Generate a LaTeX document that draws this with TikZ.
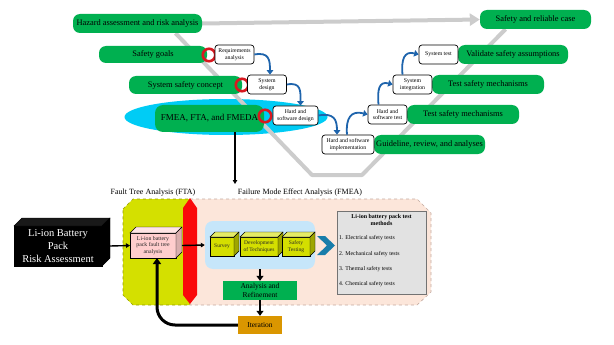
\documentclass[tikz,border=0pt]{standalone}
\usepackage{fontspec}
\setmainfont{Liberation Serif}
\usetikzlibrary{arrows.meta,calc,shapes.geometric,backgrounds}
\definecolor{vgreen}{RGB}{0,176,80}
\definecolor{vgrey}{RGB}{204,204,204}
\definecolor{ringred}{RGB}{215,25,32}
\definecolor{flowblue}{RGB}{30,100,172}
\definecolor{cyanfill}{RGB}{0,204,245}
\definecolor{ftafill}{RGB}{212,224,0}
\definecolor{fmeafill}{RGB}{252,230,218}
\definecolor{zoneline}{RGB}{196,170,160}
\definecolor{barred}{RGB}{250,10,10}
\definecolor{pinkfill}{RGB}{255,205,205}
\definecolor{paleblue}{RGB}{198,230,250}
\definecolor{boxyellow}{RGB}{212,222,0}
\definecolor{chevron}{RGB}{25,125,170}
\definecolor{methodgrey}{RGB}{226,226,226}
\definecolor{iterorange}{RGB}{218,150,0}

% Top and side faces of an extruded box node.
\newcommand{\cubeface}[4]{%
  \filldraw[fill=#3, draw=black, line width=0.4pt]
    (#1.north west) -- ([xshift=#2,yshift=#2]#1.north west)
    -- ([xshift=#2,yshift=#2]#1.north east) -- (#1.north east) -- cycle;
  \filldraw[fill=#4, draw=black, line width=0.4pt]
    (#1.north east) -- ([xshift=#2,yshift=#2]#1.north east)
    -- ([xshift=#2,yshift=#2]#1.south east) -- (#1.south east) -- cycle;
}

\begin{document}
\begin{tikzpicture}[
  x=1pt, y=-1pt,
  vstage/.style={
    fill=vgreen, rounded corners=7pt, minimum height=19pt,
    inner sep=1pt, text=black, font=\fontsize{8.4}{10}\selectfont
  },
  vtask/.style={
    draw=black, fill=white, rounded corners=3pt, line width=0.7pt,
    minimum width=39pt, minimum height=19pt, inner sep=0.5pt,
    align=center, font=\fontsize{5.8}{6.6}\selectfont
  },
  vring/.style={circle, draw=ringred, line width=2.6pt, minimum size=12.5pt, inner sep=0pt},
  vpath/.style={draw=vgrey, line width=4pt},
  vflow/.style={-{Triangle[length=4.5pt,width=6.5pt]}, line width=1.8pt, draw=flowblue},
  vcube/.style={
    draw=black, line width=0.4pt, inner sep=0.5pt, outer sep=0pt,
    align=center, text=black!85
  },
  vzone/.style={dashed, line width=0.6pt},
  vlabel/.style={font=\fontsize{8}{9}\selectfont, inner sep=1pt},
  vitem/.style={anchor=west, inner sep=0pt, font=\fontsize{5.8}{7}\selectfont},
  linkflow/.style={-{Triangle[length=4pt,width=4.5pt]}, line width=1.4pt, draw=black},
  mainflow/.style={-{Triangle[length=5pt,width=7pt]}, line width=2.6pt, draw=black},
  loopflow/.style={-{Triangle[length=6pt,width=8pt]}, line width=3pt, draw=black}
]
\useasboundingbox (0,0) rectangle (614,345);

% Left leg of the V.
\node[vstage, minimum width=129pt] (hazard) at (137.5,23.5) {Hazard assessment and risk analysis};
\node[vstage, minimum width=108pt, minimum height=17pt] (goals) at (153,54.5) {Safety goals};
\node[vstage, minimum width=113pt, minimum height=18pt] (concept) at (185.5,85) {System safety concept};
\node[vstage, minimum width=109pt, minimum height=27pt, rounded corners=8pt,
      font=\fontsize{9}{10}\selectfont] (fmeda) at (209.5,118.5) {FMEA, FTA, and FMEDA};

% Right leg of the V.
\node[vstage, minimum width=111pt] (case) at (535.5,19.5) {Safety and reliable case};
\node[vstage, minimum width=110pt] (validate) at (513,54.5) {Validate safety assumptions};
\node[vstage, minimum width=112pt] (intcheck) at (488,84.5) {Test safety mechanisms};
\node[vstage, minimum width=112pt] (unitcheck) at (463,114.5) {Test safety mechanisms};
\node[vstage, minimum width=111pt] (guide) at (429.5,144.5) {Guideline, review, and analyses};

% Grey V and the highlight behind the analysis stage.
\begin{scope}[on background layer]
  \node[ellipse, fill=cyanfill, minimum width=203pt, minimum height=36pt] (lens) at (226,117) {};
  \coordinate (vbottomleft) at (312,175);
  \coordinate (vbottomright) at (362,175);
  \draw[vpath, line join=round]
    ([xshift=38pt]hazard.south) -- (vbottomleft) -- (vbottomright) -- ([xshift=-30pt]case.south);
  \draw[vpath, -{Triangle[length=10pt,width=12pt]}] (hazard.east) -- (case.west);
\end{scope}

% Red rings where the tasks hook onto the stages.
\node[vring] (goalgate) at (209,55) {};
\node[vring] (conceptgate) at (242,85) {};
\node[vring] (fmedagate) at (265,116) {};

% Engineering tasks.
\node[vtask] (req) at (234.5,54.5) {Requirements\\analysis};
\node[vtask] (sysdesign) at (267,84.5) {System\\design};
\node[vtask, minimum width=45pt] (hwdesign) at (295.5,115.5) {Hard and\\software design};
\node[vtask, minimum width=52pt] (impl) at (348,144.5) {Hard and software\\implementation};
\node[vtask] (hwtest) at (387.5,114.5) {Hard and\\software test};
\node[vtask] (sysint) at (412.5,84.5) {System\\integration};
\node[vtask] (systest) at (438.5,54.5) {System test};

\draw[vflow] (req.east) to[out=10,in=90,looseness=1.5] ([xshift=3pt]sysdesign.north);
\draw[vflow] (sysdesign.east) to[out=10,in=90,looseness=1.5] ([xshift=5pt]hwdesign.north);
\draw[vflow] (hwdesign.east) to[out=10,in=90,looseness=1.5] ([xshift=-11pt]impl.north);
\draw[vflow] ([xshift=-1pt]impl.north) to[out=95,in=165,looseness=1.5] (hwtest.west);
\draw[vflow] ([xshift=-9pt]hwtest.north) to[out=95,in=165,looseness=1.5] (sysint.west);
\draw[vflow] ([xshift=-10pt]sysint.north) to[out=95,in=165,looseness=1.5] (systest.west);

% Analysis zones.
\draw[vzone, fill=ftafill, draw=ftafill!70!black]
  (123,209) -- (133,199) -- (190,199) -- (190,305) -- (133,305) -- (123,295) -- cycle;
\draw[vzone, fill=fmeafill, draw=zoneline]
  (190,199) -- (417,199) -- (431,213) -- (431,292) -- (417,305) -- (190,305) -- cycle;
\fill[barred] (183,208) -- (190,198) -- (197,208) -- (197,295) -- (190,304) -- (183,295) -- cycle;

\node[vlabel] (ftatitle) at (153,193) {Fault Tree Analysis (FTA)};
\node[vlabel] (fmeatitle) at (300,193) {Failure Mode Effect Analysis (FMEA)};

\coordinate (fmeaentry) at (235,184);
\draw[linkflow] ([xshift=25.5pt]fmeda.south) -- (fmeaentry);

% Battery pack and its fault tree.
\node[vcube, fill=black, text=white, minimum width=88pt, minimum height=40pt,
      font=\fontsize{10.5}{13}\selectfont] (pack) at (58,246) {Li-ion Battery\\Pack\\Risk Assessment};
\cubeface{pack}{8pt}{black!90}{black}
\node[vcube, fill=pinkfill, minimum width=46pt, minimum height=25pt,
      font=\fontsize{5.8}{6.8}\selectfont] (ftabox) at (153,245.5) {Li-ion battery\\pack fault tree\\analysis};
\cubeface{ftabox}{6pt}{pinkfill!55!white}{pinkfill!85!black}

% FMEA steps.
\node[fill=paleblue, rounded corners=8pt, minimum width=110pt, minimum height=48pt] (panel) at (260,245) {};
\node[vcube, fill=boxyellow, minimum width=24pt, minimum height=19pt,
      font=\fontsize{5.5}{6.5}\selectfont] (survey) at (222,246.5) {Survey};
\cubeface{survey}{5pt}{boxyellow!60!white}{boxyellow!75!black}
\node[vcube, fill=boxyellow, minimum width=38pt, minimum height=19pt,
      font=\fontsize{5.5}{6.5}\selectfont] (develop) at (259,246.5) {Development\\of Techniques};
\cubeface{develop}{5pt}{boxyellow!60!white}{boxyellow!75!black}
\node[vcube, fill=boxyellow, minimum width=28pt, minimum height=19pt,
      font=\fontsize{5.5}{6.5}\selectfont] (testing) at (296,246.5) {Safety\\Testing};
\cubeface{testing}{5pt}{boxyellow!60!white}{boxyellow!75!black}

\fill[chevron] (317,236) -- (325,236) -- (335,245.5) -- (325,255) -- (317,255) -- (327,245.5) -- cycle;

% Test methods list.
\node[draw=black!55, fill=methodgrey, minimum width=89pt, minimum height=83pt] (methods) at (381.5,252.5) {};
\node[font=\bfseries\fontsize{6}{7.2}\selectfont, align=center, anchor=north, inner sep=0pt]
  (methodstitle) at ([yshift=-3pt]methods.north) {Li-ion battery pack test\\methods};
\node[vitem] (electrical) at (339,238) {1. Electrical safety tests};
\node[vitem] (mechanical) at (339,254) {2. Mechanical safety tests};
\node[vitem] (thermal) at (339,269) {3. Thermal safety tests};
\node[vitem] (chemical) at (339,284) {4. Chemical safety tests};

\node[fill=vgreen, minimum width=74pt, minimum height=19pt, inner sep=0.5pt, align=center,
      font=\fontsize{7.5}{8.5}\selectfont] (analysis) at (260,290.5) {Analysis and\\Refinement};
\node[fill=iterorange, minimum width=44pt, minimum height=18pt,
      font=\fontsize{7.5}{9}\selectfont] (iteration) at (260,325) {Iteration};

% Flow through the assessment.
\draw[linkflow] ([xshift=8pt]pack.east) -- (ftabox.west);
\draw[linkflow] ([xshift=6pt]ftabox.east) -- (panel.west);
\draw[mainflow] (panel.south) -- (analysis.north);
\draw[mainflow] (analysis.south) -- (iteration.north);
\draw[loopflow, rounded corners=18pt] (iteration.west) -| ([xshift=4pt]ftabox.south);

\end{tikzpicture}
\end{document}
